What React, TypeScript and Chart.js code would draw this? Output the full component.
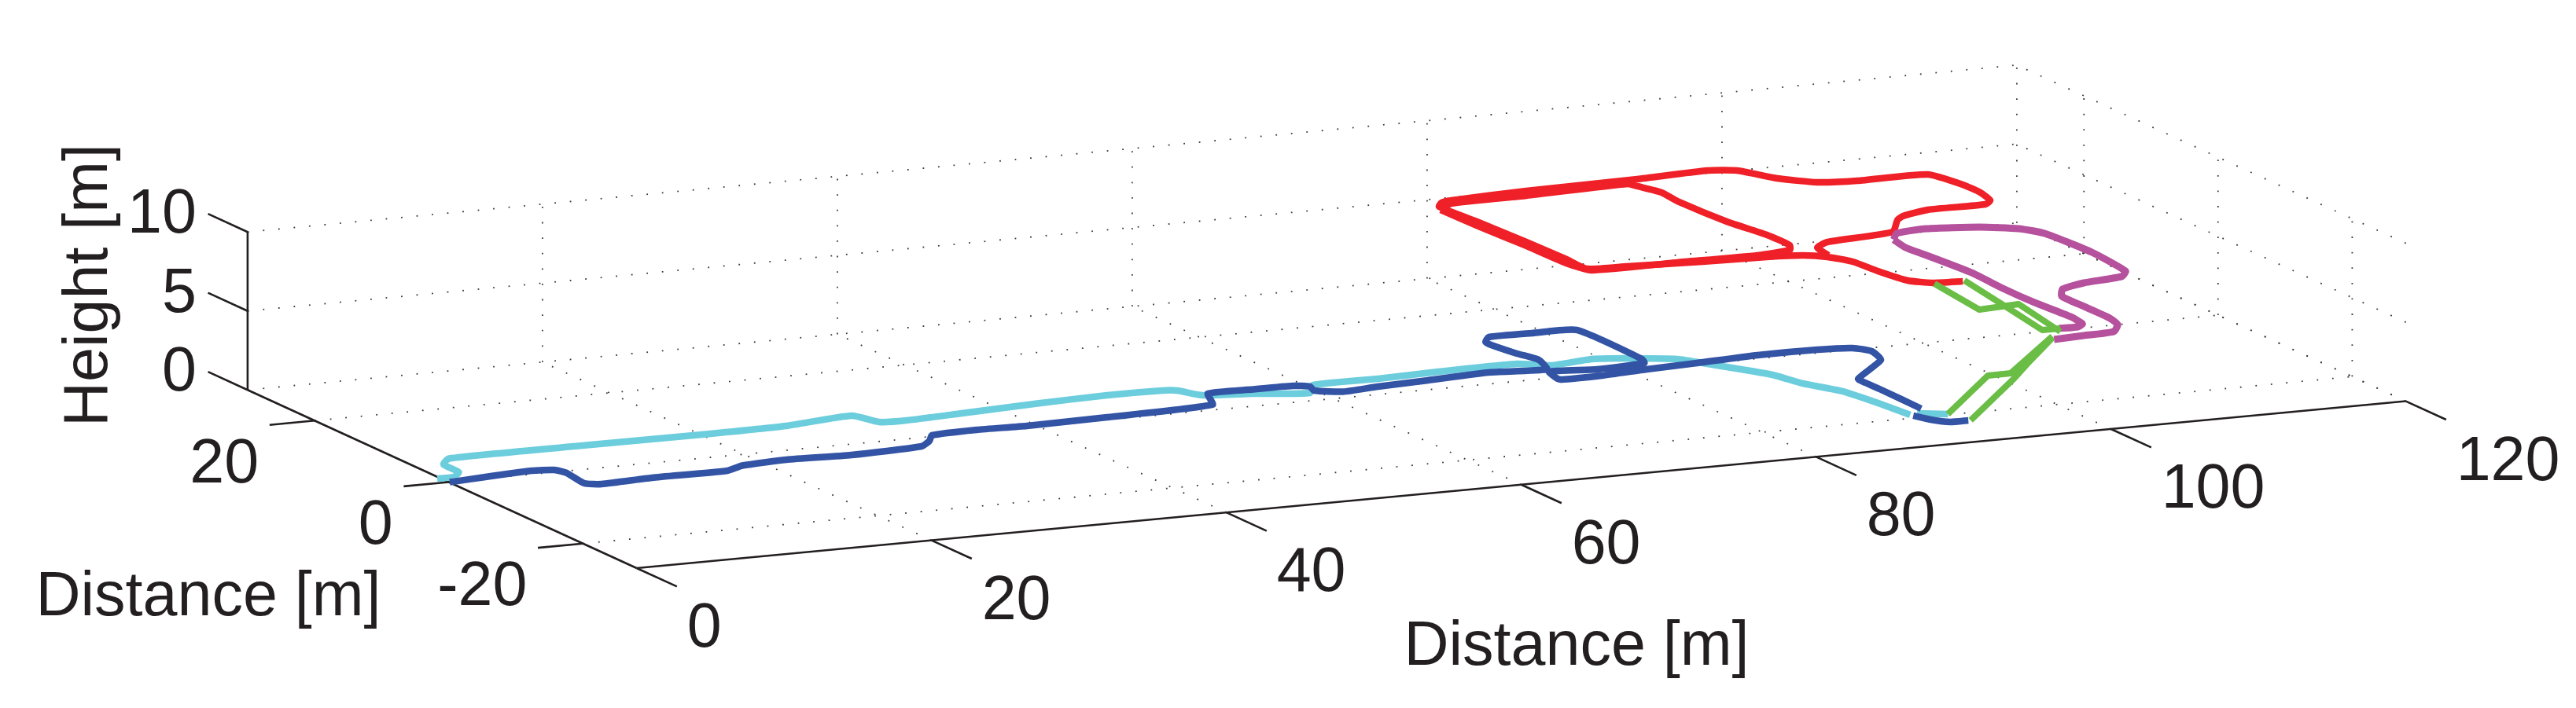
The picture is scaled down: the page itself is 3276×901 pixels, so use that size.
import React, { useEffect, useRef } from "react";
import { Chart, registerables } from "chart.js";

Chart.register(...registerables);

// ---- Axis values (metres) ----
const xTicks = [0, 20, 40, 60, 80, 100, 120];
const yTicks = [-20, 0, 20];
const zTicks = [0, 5, 10];
const yNear = -28;
const yFar = 30;
const xFar = 120;
const zTop = 10;

// ---- Trajectories (metres) ----
const groundLevel = 0;
const middleLevel = 3;
const upperLevel = 6;

const cyanMainX = [-0.22, 0.9, 1.77, 1.87, 2.9, 12.27, 20.09, 25.88, 30.81, 31.58, 33.32, 37.29, 42.74, 47.69, 51.37, 52.21, 53.04, 56.07, 59.39, 60.53, 64.95, 69.21, 74.59, 76.35, 79.37, 81.46, 84.2, 85.3, 87.62, 88.24, 89.53, 90.14, 90.44];
const cyanMainY = [1.25, 1.25, 2.4, 4.91, 6.36, 6.44, 6.38, 6.57, 7.67, 5.27, 4.99, 5.5, 6.23, 6.68, 6.55, 6.17, 4.25, 3.4, 2.15, 4.19, 4.23, 4.61, 4.73, 3.43, 4.1, 3.41, 1.92, -0.12, -4.75, -7.84, -10.98, -15.61, -19.07];
const cyanEndX = [91.03, 92.66];
const cyanEndY = [-18.82, -19.82];

const blueMainX = [0.05, 6.05, 7.43, 7.75, 7.47, 8.35, 11.95, 17.07, 18.53, 21.73, 25.98, 30.98, 32.1, 32.91, 36.1, 39.42, 44.99, 52.46, 53.55, 56.6, 59.29, 60.16, 59.9, 61.39, 63.97, 67.57, 71.94, 75.6, 76.31, 75.85, 75.44, 75.53, 76.3, 79.2, 82.1, 82.21, 81.86, 78.43, 75.44, 75.05, 75.18, 77.92, 81.22, 84.82, 89.19, 93.23, 95.41, 96.09, 95.55, 91.96, 91.87, 91.9, 91.83];
const blueMainY = [-0.02, 0.97, 0.6, -0.57, -3.77, -4.42, -4, -4.02, -3.02, -2.55, -2.94, -2.39, -1.1, 0.32, 0.67, 0.45, 0.74, 1.45, 4.54, 4.56, 4.5, 3.84, 2.68, 1.62, 2.12, 2.54, 3.12, 2.48, 5.23, 7.49, 10.74, 11.47, 12.65, 12.62, 12.33, 2.82, 1.7, 1.2, 1.79, -0.26, -0.65, -0.61, -0.06, 0.36, 0.94, 0.9, 0.42, -0.91, -3.48, -7.99, -9.23, -11.29, -17.65];
const blueEndX = [90.52, 91.01, 91.83, 93.04];
const blueEndY = [-19.36, -20.86, -22, -22.03];

const redOuterX = [98.17, 96.29, 95.17, 94.64, 94.39, 93.55, 92.33, 90.14, 85.94, 81.11, 78.57, 78.58, 78.44, 78.17, 77.88, 78.49, 79.36, 84.71, 92.4, 97.4, 99.08, 100.37, 102.14, 104.59, 109.32, 110.03, 110.06, 109.65, 108.9, 104.98, 102.81, 102.02, 100.31, 95.38, 94.13, 93.79];
const redOuterY = [-9.93, -9.59, -8.32, -5.01, -1.83, 0.09, 1.15, 1.63, 2, 2.65, 3.03, 6.1, 11.79, 18.56, 23.55, 24.55, 24.93, 25.57, 25.93, 26.48, 25.72, 22.58, 20.5, 19.9, 19.81, 16.16, 13.59, 11.22, 10.27, 10.26, 9.2, 8.28, 5.21, 4.12, 2.89, 0.49];
const redInnerX = [77.58, 78.93, 84.14, 91.29, 91.53, 92.13, 91.95, 92.23, 92.85, 92.87, 92.3, 89.81, 84.43, 78.64, 78.09, 77.96, 77.68, 77.58];
const redInnerY = [22.66, 24.1, 24.3, 24.9, 24.02, 21.71, 18.72, 12.2, 7.57, 4.23, 2.96, 2.3, 2.43, 2.49, 5.04, 10.73, 17.5, 22.66];

const magentaOuterX = [105.21, 106.15, 108.41, 111.57, 113.59, 114.47, 114.81, 114.39, 113.5, 110.6, 108.64, 107.72, 107.71, 107.72, 107.39, 106.3, 104.14, 101.98];
const magentaOuterY = [15.86, 17.48, 17.99, 17.07, 15.65, 13.72, 7.42, 1.47, 0.09, -0.65, -1.8, -3.69, -7.01, -10.85, -12.75, -14.56, -14.86, -15.16];
const magentaInnerX = [105.21, 104.91, 105.13, 105.53, 105.37, 105.41, 105.7, 105.5, 104.85, 103.59];
const magentaInnerY = [15.86, 13.44, 10.78, 4.97, -0.07, -4.69, -9.43, -11.64, -12.37, -12.31];

const greenUpperAX = [96.28, 97.56, 101.42, 103.29];
const greenUpperAY = [-9.85, -13.72, -11.11, -13.2];
const greenUpperAZ = [6, 5, 4.5, 3];
const greenUpperBX = [98.35, 99.47, 101.5, 103.68];
const greenUpperBY = [-9.76, -13.05, -14.45, -12.35];
const greenUpperBZ = [6, 5, 3.5, 3];
const greenLowerAX = [92.66, 97.7, 98.3, 102.27];
const greenLowerAY = [-19.82, -14.71, -16.78, -14.27];
const greenLowerAZ = [0, 1, 1.5, 3];
const greenLowerBX = [93.17, 98.63, 100.39, 102.08];
const greenLowerBY = [-22.09, -16.41, -14.66, -14.69];
const greenLowerBZ = [0, 1, 1.5, 3];

// ---- Text ----
const xTitle = "Distance [m]";
const yTitle = "Distance [m]";
const zTitle = "Height [m]";

// ---- Styling and view ----
const W = 3276;
const H = 901;
const INK = "#231F20";
const FONT = '79px "Liberation Sans", Arial, sans-serif';

// Orthographic view of the 3-D box on to the picture plane
const project = (x: number, y: number, z: number) => ({
  x: 570.8 + 18.75 * x - 8.53 * y,
  y: 613.5 - 1.77 * x - 3.91 * y - 20.1 * z,
});

type P3 = [number, number, number];

const seg = (a: P3, b: P3) => [project(...a), project(...b)];

const path = (xs: number[], ys: number[], z: number | number[]) =>
  xs.map((x, i) => project(x, ys[i], Array.isArray(z) ? z[i] : z));

function gridSegments() {
  const out: { x: number; y: number }[][] = [];
  xTicks.forEach((x) => {
    if (x !== 0) {
      out.push(seg([x, yNear, 0], [x, yFar, 0]));
      out.push(seg([x, yFar, 0], [x, yFar, zTop]));
    }
  });
  yTicks.forEach((y) => {
    out.push(seg([0, y, 0], [xFar, y, 0]));
    out.push(seg([xFar, y, 0], [xFar, y, zTop]));
  });
  zTicks.forEach((z) => {
    out.push(seg([0, yFar, z], [xFar, yFar, z]));
    out.push(seg([xFar, yNear, z], [xFar, yFar, z]));
  });
  return out;
}

function axisSegments() {
  const out = [
    seg([0, yFar, 0], [0, yFar, zTop]),
    seg([0, yFar, 0], [0, yNear, 0]),
    seg([0, yNear, 0], [xFar, yNear, 0]),
  ];
  xTicks.forEach((x) => out.push(seg([x, yNear, 0], [x, yNear - 6, 0])));
  yTicks.forEach((y) => out.push(seg([0, y, 0], [-3.06, y, 0])));
  zTicks.forEach((z) => out.push(seg([0, yFar, z], [0, yFar + 5.9, z])));
  return out;
}

const line = (
  data: { x: number; y: number }[],
  color: string,
  width: number,
  dash: number[] = [],
  tension = 0
) => ({
  data,
  showLine: true,
  pointRadius: 0,
  pointHoverRadius: 0,
  borderColor: color,
  backgroundColor: color,
  borderWidth: width,
  borderDash: dash,
  borderCapStyle: "butt" as const,
  borderJoinStyle: "round" as const,
  tension,
  fill: false,
});

const labelPlugin = {
  id: "axisLabels",
  afterDatasetsDraw(chart: any) {
    const { ctx, scales } = chart;
    const px = (p: { x: number; y: number }) => ({
      x: scales.x.getPixelForValue(p.x),
      y: scales.y.getPixelForValue(p.y),
    });
    ctx.save();
    ctx.fillStyle = INK;
    ctx.font = FONT;
    ctx.textBaseline = "alphabetic";

    ctx.textAlign = "left";
    xTicks.forEach((v) => {
      const p = px(project(v, yNear, 0));
      ctx.fillText(String(v), p.x + 64, p.y + 100);
    });
    ctx.textAlign = "right";
    yTicks.forEach((v) => {
      const p = px(project(0, v, 0));
      ctx.fillText(String(v), p.x - 71, p.y + 78.5);
    });
    zTicks.forEach((v) => {
      const p = px(project(0, yFar, v));
      ctx.fillText(String(v), p.x - 65, p.y + 1);
    });

    ctx.textAlign = "center";
    const xt = px({ x: 2005, y: 846 });
    ctx.fillText(xTitle, xt.x, xt.y);
    const yt = px({ x: 265, y: 783.4 });
    ctx.fillText(yTitle, yt.x, yt.y);
    const zt = px({ x: 136, y: 363 });
    ctx.translate(zt.x, zt.y);
    ctx.rotate(-Math.PI / 2);
    ctx.fillText(zTitle, 0, 0);
    ctx.restore();
  },
};

export default function App() {
  const ref = useRef<HTMLCanvasElement | null>(null);

  useEffect(() => {
    if (!ref.current) return;
    const soft = 0.18;
    const layers = [
      ...gridSegments().map((d) => line(d, "#3a3a3a", 1.8, [1.8, 17.8])),
      ...axisSegments().map((d) => line(d, INK, 2.6)),
      line(path(cyanMainX, cyanMainY, groundLevel), "#6CCDDD", 8.5, [], soft),
      line(path(cyanEndX, cyanEndY, groundLevel), "#6CCDDD", 8.5),
      line(path(blueMainX, blueMainY, groundLevel), "#3353A4", 8.5, [], soft),
      line(path(blueEndX, blueEndY, groundLevel), "#3353A4", 8.5, [], soft),
      line(path(redOuterX, redOuterY, upperLevel), "#EF2027", 8.5, [], soft),
      line(path(redInnerX, redInnerY, upperLevel), "#EF2027", 8.5, [], soft),
      line(path(magentaOuterX, magentaOuterY, middleLevel), "#B5519D", 9, [], soft),
      line(path(magentaInnerX, magentaInnerY, middleLevel), "#B5519D", 9, [], soft),
      line(path(greenUpperAX, greenUpperAY, greenUpperAZ), "#6ABD45", 8),
      line(path(greenUpperBX, greenUpperBY, greenUpperBZ), "#6ABD45", 8),
      line(path(greenLowerAX, greenLowerAY, greenLowerAZ), "#6ABD45", 8),
      line(path(greenLowerBX, greenLowerBY, greenLowerBZ), "#6ABD45", 8),
    ];
    const chart = new Chart(ref.current, {
      type: "scatter",
      data: { datasets: layers.map((l, i) => ({ ...l, order: -i })) as any },
      options: {
        animation: false,
        responsive: false,
        devicePixelRatio: 1,
        events: [],
        layout: { padding: 0 },
        plugins: { legend: { display: false }, tooltip: { enabled: false } },
        scales: {
          x: { type: "linear", display: false, min: 0, max: W },
          y: { type: "linear", display: false, min: 0, max: H, reverse: true },
        },
      },
      plugins: [labelPlugin],
    });
    return () => chart.destroy();
  }, []);

  return (
    <div style={{ position: "fixed", left: 0, top: 0, width: W, height: H, background: "#fff", overflow: "hidden" }}>
      <canvas ref={ref} width={W} height={H} style={{ display: "block", width: W, height: H }} />
    </div>
  );
}
